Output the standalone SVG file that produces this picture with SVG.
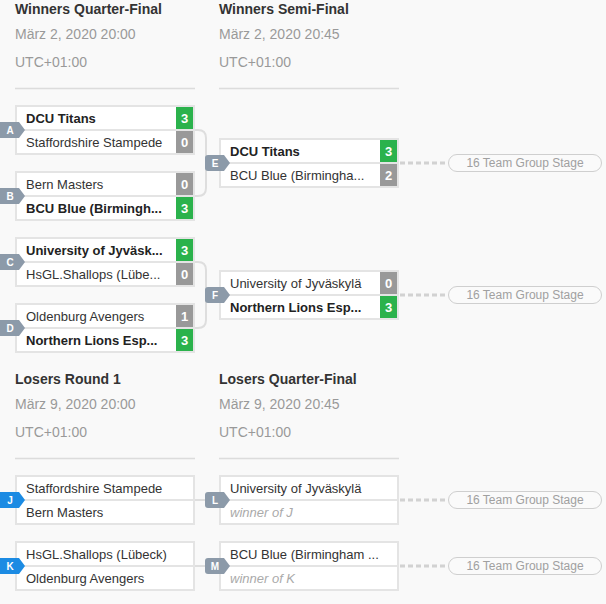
<svg xmlns="http://www.w3.org/2000/svg" width="606" height="604" viewBox="0 0 606 604">
<style>
text{font-family:"Liberation Sans",Arial,sans-serif}
.title{font-size:14px;font-weight:bold;fill:#333}
.date{font-size:14px;fill:#999}
.sep{stroke:#dcdcdc;stroke-width:1.5}
.box{fill:#fff;stroke:#e4e4e4;stroke-width:2}
.div{stroke:#e4e4e4;stroke-width:2}
.team{font-size:13px;fill:#333}
.win{font-weight:bold;fill:#222}
.tbd{font-style:italic;fill:#aaa}
.sw{fill:#2bb24c}
.sl{fill:#999}
.sc{font-size:13px;font-weight:bold;fill:#fff;text-anchor:middle}
.badge{fill:#8c9aa9}
.blue{fill:#1c8be3}
.bl{font-size:10px;font-weight:bold;fill:#fff;text-anchor:middle}
.conn{fill:none;stroke:#dedede;stroke-width:2}
.dash{stroke:#d2d2d2;stroke-width:3;stroke-dasharray:5 3}
.pill{fill:#fafafa;stroke:#cfcfcf;stroke-width:1}
.pt{font-size:12px;fill:#a0a0a0;text-anchor:middle}
</style>
<defs>
<path id="bdg" d="M0,-8 H19 L25,0 L19,8 H0 Z"/>
<path id="bdg2" d="M3,-8 H19 L25,0 L19,8 H3 Q0,8 0,5 V-5 Q0,-8 3,-8 Z"/>
</defs>
<rect width="606" height="604" fill="#f9f9f9"/>
<g id="headers">
<text class="title" x="15" y="14">Winners Quarter-Final</text>
<text class="date" x="15" y="39">März 2, 2020 20:00</text>
<text class="date" x="15" y="67">UTC+01:00</text>
<line class="sep" x1="15" y1="88.5" x2="195" y2="88.5"/>
<text class="title" x="219" y="14">Winners Semi-Final</text>
<text class="date" x="219" y="39">März 2, 2020 20:45</text>
<text class="date" x="219" y="67">UTC+01:00</text>
<line class="sep" x1="219" y1="88.5" x2="399" y2="88.5"/>
<text class="title" x="15" y="384">Losers Round 1</text>
<text class="date" x="15" y="409">März 9, 2020 20:00</text>
<text class="date" x="15" y="437">UTC+01:00</text>
<line class="sep" x1="15" y1="458.5" x2="195" y2="458.5"/>
<text class="title" x="219" y="384">Losers Quarter-Final</text>
<text class="date" x="219" y="409">März 9, 2020 20:45</text>
<text class="date" x="219" y="437">UTC+01:00</text>
<line class="sep" x1="219" y1="458.5" x2="399" y2="458.5"/>
</g>
<g id="connectors">
<path class="conn" d="M194,130 H198 Q206,130 206,138 V188 Q206,196 198,196 H194 M206,163 H220"/>
<path class="conn" d="M194,262 H198 Q206,262 206,270 V320 Q206,328 198,328 H194 M206,295 H220"/>
<path class="conn" d="M194,500 H220"/>
<path class="conn" d="M194,566 H220"/>
<line class="dash" x1="400" y1="163" x2="446" y2="163"/>
<line class="dash" x1="400" y1="295" x2="446" y2="295"/>
<line class="dash" x1="400" y1="500" x2="446" y2="500"/>
<line class="dash" x1="400" y1="566" x2="446" y2="566"/>
</g>
<g id="match-A">
<rect class="box" x="16" y="106" width="178" height="48"/>
<line class="div" x1="16" y1="130" x2="194" y2="130"/>
<rect class="sw" x="176" y="107" width="17" height="22"/>
<rect class="sl" x="176" y="131" width="17" height="22"/>
<text class="team win" x="26" y="123">DCU Titans</text>
<text class="team" x="26" y="147">Staffordshire Stampede</text>
<text class="sc" x="184.5" y="123">3</text>
<text class="sc" x="184.5" y="147">0</text>
<use href="#bdg" class="badge" x="0" y="130"/>
<text class="bl" x="10" y="133.5">A</text>
</g>
<g id="match-B">
<rect class="box" x="16" y="172" width="178" height="48"/>
<line class="div" x1="16" y1="196" x2="194" y2="196"/>
<rect class="sl" x="176" y="173" width="17" height="22"/>
<rect class="sw" x="176" y="197" width="17" height="22"/>
<text class="team" x="26" y="189">Bern Masters</text>
<text class="team win" x="26" y="213">BCU Blue (Birmingh...</text>
<text class="sc" x="184.5" y="189">0</text>
<text class="sc" x="184.5" y="213">3</text>
<use href="#bdg" class="badge" x="0" y="196"/>
<text class="bl" x="10" y="199.5">B</text>
</g>
<g id="match-C">
<rect class="box" x="16" y="238" width="178" height="48"/>
<line class="div" x1="16" y1="262" x2="194" y2="262"/>
<rect class="sw" x="176" y="239" width="17" height="22"/>
<rect class="sl" x="176" y="263" width="17" height="22"/>
<text class="team win" x="26" y="255">University of Jyväsk...</text>
<text class="team" x="26" y="279">HsGL.Shallops (Lübe...</text>
<text class="sc" x="184.5" y="255">3</text>
<text class="sc" x="184.5" y="279">0</text>
<use href="#bdg" class="badge" x="0" y="262"/>
<text class="bl" x="10" y="265.5">C</text>
</g>
<g id="match-D">
<rect class="box" x="16" y="304" width="178" height="48"/>
<line class="div" x1="16" y1="328" x2="194" y2="328"/>
<rect class="sl" x="176" y="305" width="17" height="22"/>
<rect class="sw" x="176" y="329" width="17" height="22"/>
<text class="team" x="26" y="321">Oldenburg Avengers</text>
<text class="team win" x="26" y="345">Northern Lions Esp...</text>
<text class="sc" x="184.5" y="321">1</text>
<text class="sc" x="184.5" y="345">3</text>
<use href="#bdg" class="badge" x="0" y="328"/>
<text class="bl" x="10" y="331.5">D</text>
</g>
<g id="match-E">
<rect class="box" x="220" y="139" width="178" height="48"/>
<line class="div" x1="220" y1="163" x2="398" y2="163"/>
<rect class="sw" x="380" y="140" width="17" height="22"/>
<rect class="sl" x="380" y="164" width="17" height="22"/>
<text class="team win" x="230" y="156">DCU Titans</text>
<text class="team" x="230" y="180">BCU Blue (Birmingha...</text>
<text class="sc" x="388.5" y="156">3</text>
<text class="sc" x="388.5" y="180">2</text>
<use href="#bdg2" class="badge" x="205" y="163"/>
<text class="bl" x="215" y="166.5">E</text>
</g>
<g id="match-F">
<rect class="box" x="220" y="271" width="178" height="48"/>
<line class="div" x1="220" y1="295" x2="398" y2="295"/>
<rect class="sl" x="380" y="272" width="17" height="22"/>
<rect class="sw" x="380" y="296" width="17" height="22"/>
<text class="team" x="230" y="288">University of Jyväskylä</text>
<text class="team win" x="230" y="312">Northern Lions Esp...</text>
<text class="sc" x="388.5" y="288">0</text>
<text class="sc" x="388.5" y="312">3</text>
<use href="#bdg2" class="badge" x="205" y="295"/>
<text class="bl" x="215" y="298.5">F</text>
</g>
<g id="match-J">
<rect class="box" x="16" y="476" width="178" height="48"/>
<line class="div" x1="16" y1="500" x2="194" y2="500"/>
<text class="team" x="26" y="493">Staffordshire Stampede</text>
<text class="team" x="26" y="517">Bern Masters</text>
<use href="#bdg" class="blue" x="0" y="500"/>
<text class="bl" x="10" y="503.5">J</text>
</g>
<g id="match-K">
<rect class="box" x="16" y="542" width="178" height="48"/>
<line class="div" x1="16" y1="566" x2="194" y2="566"/>
<text class="team" x="26" y="559">HsGL.Shallops (Lübeck)</text>
<text class="team" x="26" y="583">Oldenburg Avengers</text>
<use href="#bdg" class="blue" x="0" y="566"/>
<text class="bl" x="10" y="569.5">K</text>
</g>
<g id="match-L">
<rect class="box" x="220" y="476" width="178" height="48"/>
<line class="div" x1="220" y1="500" x2="398" y2="500"/>
<text class="team" x="230" y="493">University of Jyväskylä</text>
<text class="team tbd" x="230" y="517">winner of J</text>
<use href="#bdg2" class="badge" x="205" y="500"/>
<text class="bl" x="215" y="503.5">L</text>
</g>
<g id="match-M">
<rect class="box" x="220" y="542" width="178" height="48"/>
<line class="div" x1="220" y1="566" x2="398" y2="566"/>
<text class="team" x="230" y="559">BCU Blue (Birmingham ...</text>
<text class="team tbd" x="230" y="583">winner of K</text>
<use href="#bdg2" class="badge" x="205" y="566"/>
<text class="bl" x="215" y="569.5">M</text>
</g>
<g id="next-E">
<rect class="pill" x="448.5" y="154.5" width="153" height="17" rx="8.5"/>
<text class="pt" x="525" y="167">16 Team Group Stage</text>
</g>
<g id="next-F">
<rect class="pill" x="448.5" y="286.5" width="153" height="17" rx="8.5"/>
<text class="pt" x="525" y="299">16 Team Group Stage</text>
</g>
<g id="next-L">
<rect class="pill" x="448.5" y="491.5" width="153" height="17" rx="8.5"/>
<text class="pt" x="525" y="504">16 Team Group Stage</text>
</g>
<g id="next-M">
<rect class="pill" x="448.5" y="557.5" width="153" height="17" rx="8.5"/>
<text class="pt" x="525" y="570">16 Team Group Stage</text>
</g>
</svg>
